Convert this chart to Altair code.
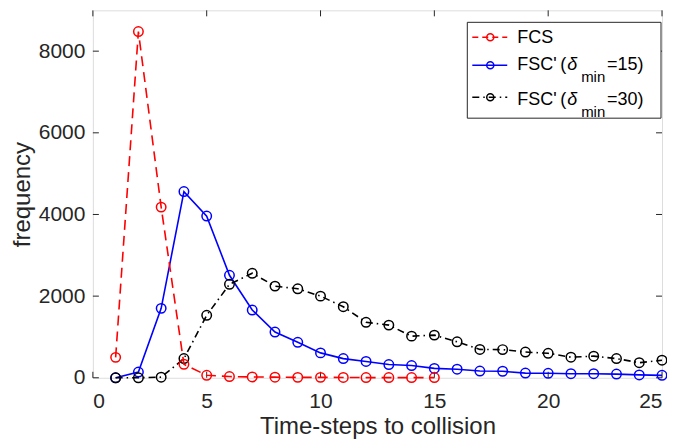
import altair as alt
import pandas as pd

# ---- data ----
steps_fcs = list(range(1, 16))
fcs = [500, 8480, 4180, 330, 60, 30, 20, 15, 10, 10, 8, 5, 5, 5, 5]

steps_fsc = list(range(1, 26))
fsc15 = [0, 140, 1700, 4560, 3960, 2510, 1660, 1120, 870, 610, 470, 400, 325,
         300, 230, 210, 165, 160, 115, 110, 100, 100, 90, 70, 60]
fsc30 = [0, 0, 15, 470, 1530, 2290, 2560, 2245, 2180, 2000, 1740, 1360, 1290,
         1020, 1045, 880, 695, 690, 630, 600, 505, 530, 470, 370, 430]

x_ticks = [0, 5, 10, 15, 20, 25]
y_ticks = [0, 2000, 4000, 6000, 8000]

W, H = 570, 368
FONT = "Liberation Sans"
AX = "#262626"

df_fcs = pd.DataFrame({"t": steps_fcs, "f": fcs})
df_15 = pd.DataFrame({"t": steps_fsc, "f": fsc15})
df_30 = pd.DataFrame({"t": steps_fsc, "f": fsc30})

xs = alt.Scale(domain=[0, 25], nice=False, zero=False)
ys = alt.Scale(domain=[0, 9000], nice=False)

x_axis = alt.Axis(values=x_ticks, format="d", grid=False, domain=False, ticks=False, tickSize=0,
                  labelFont=FONT, labelFontSize=21, labelColor=AX, labelPadding=13,
                  title="Time-steps to collision", titleFont=FONT, titleFontSize=24,
                  titleFontWeight="normal", titleColor=AX, titlePadding=3)
y_axis = alt.Axis(values=y_ticks, format="d", grid=False, domain=False, ticks=False, tickSize=0,
                  labelFont=FONT, labelFontSize=21, labelColor=AX, labelPadding=8,
                  title="frequency", titleFont=FONT, titleFontSize=24,
                  titleFontWeight="normal", titleColor=AX, titlePadding=4)

X = alt.X("t:Q", scale=xs, axis=x_axis)
Y = alt.Y("f:Q", scale=ys, axis=y_axis)
Xn = alt.X("t:Q", scale=xs)
Yn = alt.Y("f:Q", scale=ys)


def series(df, color, dash):
    kw = {"color": color, "strokeWidth": 1.6}
    if dash:
        kw["strokeDash"] = dash
    line = alt.Chart(df).mark_line(**kw).encode(x=Xn, y=Yn)
    pts = alt.Chart(df).mark_point(shape="circle", filled=False, size=90,
                                   color=color, strokeWidth=1.5, opacity=1).encode(x=Xn, y=Yn)
    return line + pts


RED_DASH = [10, 6]
DASHDOT = [7, 4, 1.5, 4]

base = alt.Chart(df_30).mark_point(opacity=0).encode(x=X, y=Y)

s15 = series(df_15, "#0000ff", None)
s30 = series(df_30, "#000000", DASHDOT)
sfcs = series(df_fcs, "#ff0000", RED_DASH)

# inward ticks (MATLAB style)
dfx = pd.DataFrame({"t": x_ticks})
dfy = pd.DataFrame({"f": y_ticks})
tick_kw = {"color": AX, "strokeWidth": 1}
xt_b = alt.Chart(dfx).mark_rule(**tick_kw).encode(x=Xn, y=alt.value(H), y2=alt.value(H - 6))
xt_t = alt.Chart(dfx).mark_rule(**tick_kw).encode(x=Xn, y=alt.value(0), y2=alt.value(6))
yt_l = alt.Chart(dfy).mark_rule(**tick_kw).encode(y=Yn, x=alt.value(0), x2=alt.value(6))
yt_r = alt.Chart(dfy).mark_rule(**tick_kw).encode(y=Yn, x=alt.value(W), x2=alt.value(W - 6))

# manual legend
one = pd.DataFrame({"k": [0]})
LX0, LX1, LM, LT = 380, 415, 398, 425
box = alt.Chart(one).mark_rect(fill="white", stroke=AX, strokeWidth=1).encode(
    x=alt.value(375), x2=alt.value(569), y=alt.value(12), y2=alt.value(108))

# (color, dash, line y, text baseline y, main text, suffix)
legend_rows = [
    ("#ff0000", [6, 4], 27, 33, "FCS", None),
    ("#0000ff", None, 55, 60, "FSC'", "=15)"),
    ("#000000", DASHDOT, 87, 95, "FSC'", "=30)"),
]
TXT = {"align": "left", "baseline": "alphabetic", "font": FONT, "color": "#000"}
legend_layers = [box]
for color, dash, yl, yb, t1, t2 in legend_rows:
    kw = {"color": color, "strokeWidth": 1.5}
    if dash:
        kw["strokeDash"] = dash
    legend_layers.append(alt.Chart(one).mark_rule(**kw).encode(
        x=alt.value(LX0), x2=alt.value(LX1), y=alt.value(yl)))
    legend_layers.append(alt.Chart(one).mark_point(shape="circle", filled=False, size=50,
                                                   color=color, strokeWidth=1.5, opacity=1).encode(
        x=alt.value(LM), y=alt.value(yl)))
    legend_layers.append(alt.Chart(one).mark_text(text=t1, fontSize=18, **TXT).encode(
        x=alt.value(LT), y=alt.value(yb)))
    if t2:
        legend_layers.append(alt.Chart(one).mark_text(text="(", fontSize=18, **TXT).encode(
            x=alt.value(468), y=alt.value(yb)))
        legend_layers.append(alt.Chart(one).mark_text(
            text="δ", fontSize=18, fontStyle="italic", **TXT).encode(x=alt.value(475), y=alt.value(yb)))
        legend_layers.append(alt.Chart(one).mark_text(text="min", fontSize=15, **TXT).encode(
            x=alt.value(489), y=alt.value(yb + 12)))
        legend_layers.append(alt.Chart(one).mark_text(text=t2, fontSize=18, **TXT).encode(
            x=alt.value(515), y=alt.value(yb)))

chart = alt.layer(base, xt_b, xt_t, yt_l, yt_r, s15, s30, sfcs, *legend_layers).properties(
    width=W, height=H, autosize=alt.AutoSizeParams(type="none"),
    padding={"left": 85, "top": 2, "right": 5, "bottom": 80}
).configure_view(stroke=AX, strokeWidth=1).configure(background="white")

chart.save("out.html", embed_options={"renderer": "svg", "actions": False})
